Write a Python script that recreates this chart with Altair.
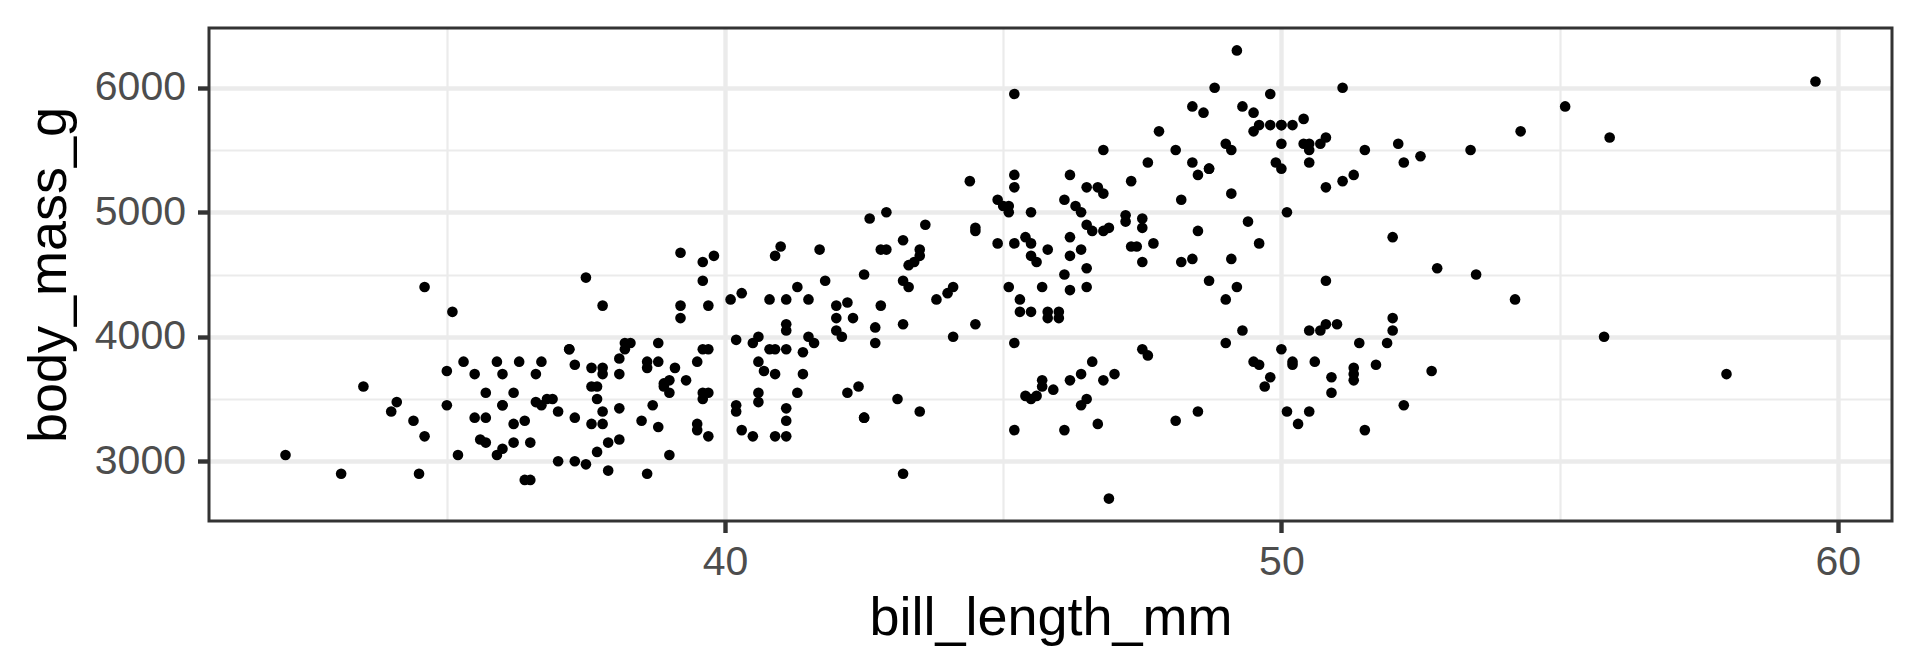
import altair as alt
import pandas as pd

# ---- data (Palmer penguins) ----
adelie_bill = [39.1,39.5,40.3,36.7,39.3,38.9,39.2,34.1,42.0,37.8,
               37.8,41.1,38.6,34.6,36.6,38.7,42.5,34.4,46.0,37.8,
               37.7,35.9,38.2,38.8,35.3,40.6,40.5,37.9,40.5,39.5,
               37.2,39.5,40.9,36.4,39.2,38.8,42.2,37.6,39.8,36.5,
               40.8,36.0,44.1,37.0,39.6,41.1,37.5,36.0,42.3,39.6,
               40.1,35.0,42.0,34.5,41.4,39.0,40.6,36.5,37.6,35.7,
               41.3,37.6,41.1,36.4,41.6,35.5,41.1,35.9,41.8,33.5,
               39.7,39.6,45.8,35.5,42.8,40.9,37.2,36.2,42.1,34.6,
               42.9,36.7,35.1,37.3,41.3,36.3,36.9,38.3,38.9,35.7,
               41.1,34.0,39.6,36.2,40.8,38.1,40.3,33.1,43.2,35.0,
               41.0,37.7,37.8,37.9,39.7,38.6,38.2,38.1,43.2,38.1,
               45.6,39.7,42.2,39.6,42.7,38.6,37.3,35.7,41.1,36.2,
               37.7,40.2,41.4,35.2,40.6,38.8,41.5,39.0,44.1,38.5,
               43.1,36.8,37.5,38.1,41.1,35.6,40.2,37.0,39.7,40.2,
               40.6,32.1,40.7,37.3,39.0,39.2,36.6,36.0,37.8,36.0,41.5]
adelie_mass = [3750,3800,3250,3450,3650,3625,4675,3475,4250,3300,
               3700,3200,3800,4400,3700,3450,4500,3325,4200,3400,
               3600,3800,3950,3800,3800,3550,3200,3150,3950,3250,
               3900,3300,3900,3325,4150,3950,3550,3300,4650,3150,
               3900,3100,4400,3000,4600,3425,2975,3450,4150,3500,
               4300,3450,4050,2900,3700,3550,3800,2850,3750,3150,
               4400,3600,4050,2850,3950,3350,4100,3050,4450,3600,
               3900,3550,4150,3700,4250,3700,3900,3550,4000,3200,
               4700,3800,4200,3350,3550,3800,3500,3950,3600,3550,
               4300,3400,4450,3300,4300,3700,4350,2900,4100,3725,
               4725,3075,4250,2925,3550,3750,3900,3175,4775,3825,
               4600,3200,4275,3900,4075,2900,3775,3350,3325,3150,
               3500,3450,3875,3050,4000,3275,4300,3050,4000,3325,
               3500,3500,4475,3425,3900,3175,3975,3400,4250,3400,
               3475,3050,3725,3000,3650,4250,3475,3450,3750,3700,4000]

gentoo_bill = [46.1,50.0,48.7,50.0,47.6,46.5,45.4,46.7,43.3,46.8,
               40.9,49.0,45.5,48.4,45.8,49.3,42.0,49.2,46.2,48.7,
               50.2,45.1,46.5,46.3,42.9,46.1,44.5,47.8,48.2,50.0,
               47.3,42.8,45.1,59.6,49.1,48.4,42.6,44.4,44.0,48.7,
               42.7,49.6,45.3,49.6,50.5,43.6,45.5,50.5,44.9,45.2,
               46.6,48.5,45.1,50.1,46.5,45.0,43.8,45.5,43.2,50.4,
               45.3,46.2,45.7,54.3,45.8,49.8,46.2,49.5,43.5,50.7,
               47.7,46.4,48.2,46.5,46.4,48.6,47.5,51.1,45.2,45.2,
               49.1,52.5,47.4,50.0,44.9,50.8,43.4,51.3,47.5,52.1,
               47.5,52.2,45.5,49.5,44.5,50.8,49.4,46.9,48.4,51.1,
               48.5,55.9,47.2,49.1,47.3,46.8,41.7,53.4,43.3,48.1,
               50.5,49.8,43.5,51.5,46.2,55.1,44.5,48.8,47.2,
               46.8,50.4,45.2,49.9]
gentoo_mass = [4500,5700,4450,5700,5400,4550,4800,5200,4400,5150,
               4650,5550,4650,5850,4200,5850,4150,6300,4800,5350,
               5700,5000,4400,5050,5000,5100,4100,5650,4600,5550,
               5250,4700,5050,6050,5150,5400,4950,5250,4350,5350,
               3950,5700,4300,4750,5550,4900,4200,5400,5100,5300,
               4850,5300,4400,5000,4900,5050,4300,5000,4450,5550,
               4200,5300,4400,5650,4700,5700,4650,5800,4700,5550,
               4750,5000,5100,5200,4700,5800,4600,6000,4750,5950,
               4625,5450,4725,5350,4750,5600,4600,5300,4875,5550,
               4950,5400,4750,5650,4850,5200,4925,4875,4625,5250,
               4850,5600,4975,5500,4725,5500,4700,5500,4575,5500,
               5500,5950,4650,5500,4375,5850,4875,6000,4925,
               4850,5750,5200,5400]

chinstrap_bill = [46.5,50.0,51.3,45.4,52.7,45.2,46.1,51.3,46.0,51.3,
                  46.6,51.7,47.0,52.0,45.9,50.5,50.3,58.0,46.4,49.2,
                  42.4,48.5,43.2,50.6,46.7,52.0,50.5,49.5,46.4,52.8,
                  40.9,54.2,42.5,51.0,49.7,47.5,47.6,52.0,46.9,53.5,
                  49.0,46.2,50.9,45.5,50.9,50.8,50.1,49.0,51.5,49.8,
                  48.1,51.4,45.7,50.7,42.5,52.2,45.2,49.3,50.2,45.6,
                  51.9,46.8,45.7,55.8,43.5,49.6,50.8,50.2]
chinstrap_mass = [3500,3900,3650,3525,3725,3950,3250,3750,4150,3700,
                  3800,3775,3700,4050,3575,4050,3300,3700,3450,4400,
                  3600,3400,2900,3800,3300,4150,3400,3800,3700,4550,
                  3200,4300,3350,4100,3600,3900,3850,4800,2700,4500,
                  3950,3650,3550,3500,3675,4450,3400,4300,3250,3675,
                  3325,3950,3600,4050,3350,3450,3250,4050,3800,3525,
                  3950,3650,3650,4000,3400,3775,4100,3775]

x_ticks = [35, 40, 45, 50, 55, 60]
y_ticks = [3000, 3500, 4000, 4500, 5000, 5500, 6000]

bill = adelie_bill + gentoo_bill + chinstrap_bill
mass = adelie_mass + gentoo_mass + chinstrap_mass
n = min(len(bill), len(mass))
df = pd.DataFrame({"bill_length_mm": bill[:n], "body_mass_g": mass[:n]})

W, H = 1683, 493
FONT = "Liberation Sans"

x_axis = alt.Axis(
    values=x_ticks, title="bill_length_mm",
    labelExpr="datum.value % 10 === 0 ? datum.label : ''",
    grid=True, gridColor="#EBEBEB",
    gridWidth={"condition": {"test": "datum.value % 10 === 0", "value": 4.4}, "value": 2.2},
    tickOpacity={"condition": {"test": "datum.value % 10 === 0", "value": 1}, "value": 0},
    tickColor="#333333", tickWidth=4.4, tickSize=11.5, domain=False,
    labelFont=FONT, labelFontSize=41, labelColor="#4D4D4D",
    labelBaseline="alphabetic", labelPadding=41.5, labelFlush=False, labelOverlap=False,
    titleFont=FONT, titleFontSize=54, titleFontWeight="normal", titleColor="black",
    titleX=W / 2, titleY=113, titleBaseline="alphabetic", titleAlign="center",
)
y_axis = alt.Axis(
    values=y_ticks, title="body_mass_g", format="d",
    labelExpr="datum.value % 1000 === 0 ? datum.label : ''",
    grid=True, gridColor="#EBEBEB",
    gridWidth={"condition": {"test": "datum.value % 1000 === 0", "value": 4.4}, "value": 2.2},
    tickOpacity={"condition": {"test": "datum.value % 1000 === 0", "value": 1}, "value": 0},
    tickColor="#333333", tickWidth=4.4, tickSize=11.5, domain=False,
    labelFont=FONT, labelFontSize=41, labelColor="#4D4D4D",
    labelAlign="right", labelBaseline="middle", labelPadding=12, labelOverlap=False,
    titleFont=FONT, titleFontSize=54, titleFontWeight="normal", titleColor="black",
    titleX=-144, titleY=H / 2, titleAngle=270, titleBaseline="alphabetic", titleAlign="center",
)

points = alt.Chart(df).mark_circle(size=113, color="black", opacity=1).encode(
    x=alt.X("bill_length_mm:Q", scale=alt.Scale(domain=[30.725, 60.975], nice=False, zero=False), axis=x_axis),
    y=alt.Y("body_mass_g:Q", scale=alt.Scale(domain=[2520, 6480], nice=False, zero=False), axis=y_axis),
)

frame = alt.Chart(pd.DataFrame({"f": [0]})).mark_rect(
    fillOpacity=0, stroke="#333333", strokeWidth=3
).encode(x=alt.value(0), x2=alt.value(W), y=alt.value(0), y2=alt.value(H))

chart = alt.layer(points, frame).properties(
    width=W, height=H,
    autosize=alt.AutoSizeParams(type="none"),
    padding={"left": 201, "top": 20, "right": 20, "bottom": 143},
).configure_view(strokeWidth=0).configure(font=FONT, background="white")

chart.save("out.html", embed_options={"renderer": "svg", "actions": False})
